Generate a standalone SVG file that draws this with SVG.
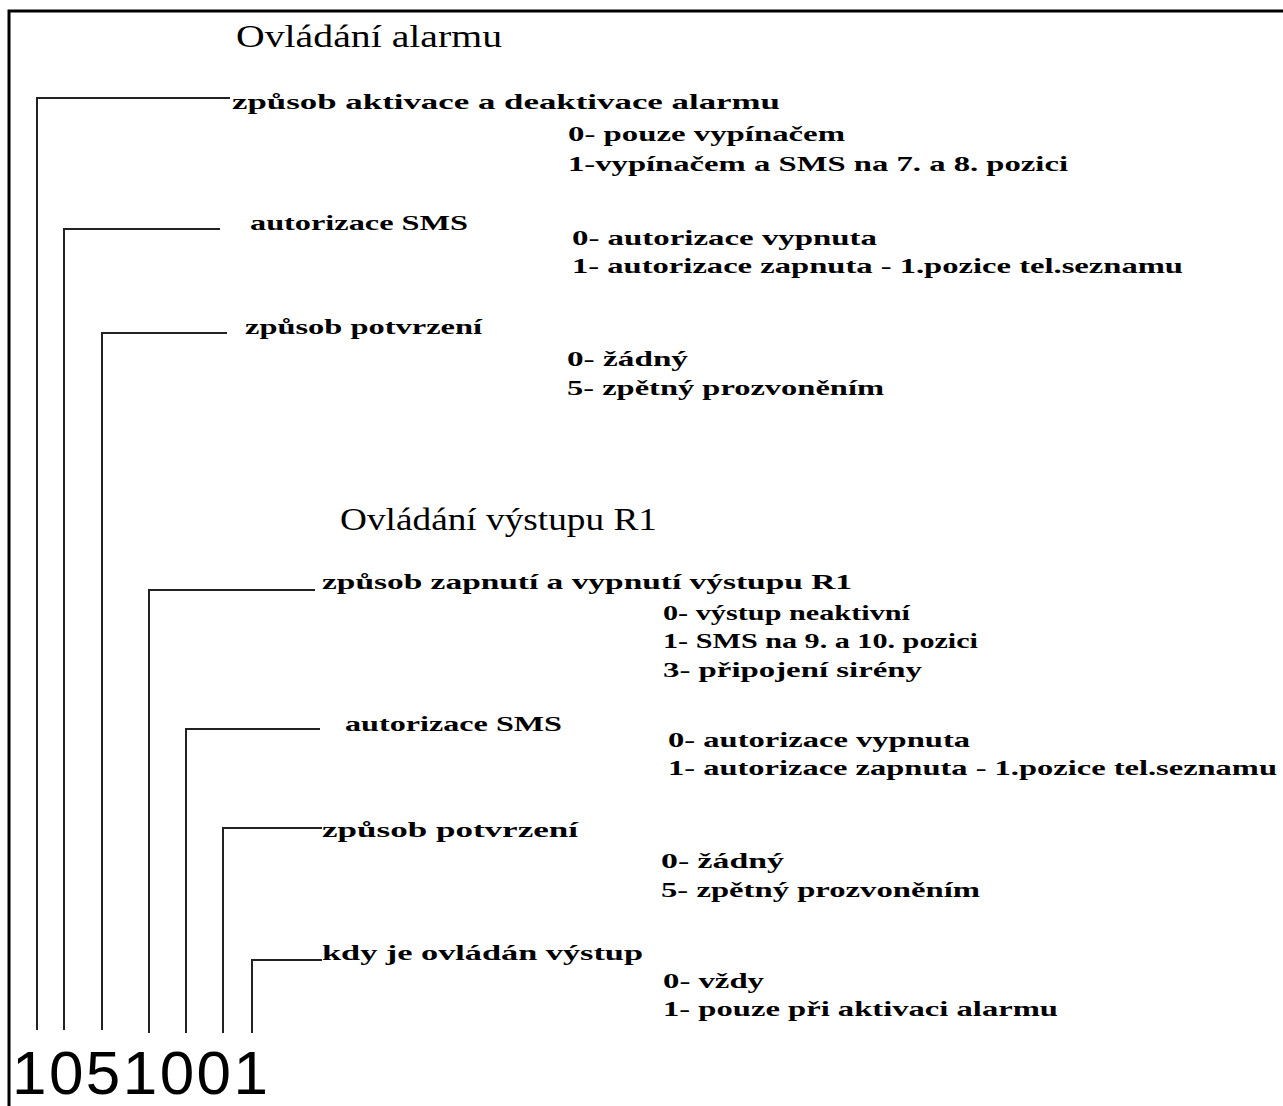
<svg xmlns="http://www.w3.org/2000/svg" width="1283" height="1106" viewBox="0 0 1283 1106">
<style>
.t{font-family:"Liberation Serif","Times New Roman",serif;font-size:32px;fill:#000}
.b{font-family:"Liberation Serif","Times New Roman",serif;font-size:22px;font-weight:bold;fill:#000}
.c{fill:none;stroke:#222;stroke-width:2}
.num{font-family:"Liberation Sans",Arial,sans-serif;font-size:62px;fill:#000}
</style>
<rect width="1283" height="1106" fill="#fff"/>
<path d="M9,1106 V11 H1283" fill="none" stroke="#000" stroke-width="3"/>
<g id="connectors">
<path class="c" d="M37,1030 V98 H230"/>
<path class="c" d="M64,1030 V229 H220"/>
<path class="c" d="M102,1030 V333 H227"/>
<path class="c" d="M149,1033 V590 H315"/>
<path class="c" d="M186,1033 V729 H320"/>
<path class="c" d="M223,1033 V828 H322"/>
<path class="c" d="M252,1033 V960 H322"/>
</g>
<g id="title1"><text class="t" x="236" y="47" textLength="266" lengthAdjust="spacingAndGlyphs">Ovládání alarmu</text></g>
<g id="node1">
<text class="b" x="232" y="109" textLength="548" lengthAdjust="spacingAndGlyphs">způsob aktivace a deaktivace alarmu</text>
<text class="b" x="568" y="141" textLength="277" lengthAdjust="spacingAndGlyphs">0- pouze vypínačem</text>
<text class="b" x="568" y="171" textLength="500" lengthAdjust="spacingAndGlyphs">1-vypínačem a SMS na 7. a 8. pozici</text>
</g>
<g id="node2">
<text class="b" x="250" y="230" textLength="218" lengthAdjust="spacingAndGlyphs">autorizace SMS</text>
<text class="b" x="572" y="245" textLength="305" lengthAdjust="spacingAndGlyphs">0- autorizace vypnuta</text>
<text class="b" x="572" y="273" textLength="611" lengthAdjust="spacingAndGlyphs">1- autorizace zapnuta - 1.pozice tel.seznamu</text>
</g>
<g id="node3">
<text class="b" x="245" y="334" textLength="237" lengthAdjust="spacingAndGlyphs">způsob potvrzení</text>
<text class="b" x="567" y="366" textLength="121" lengthAdjust="spacingAndGlyphs">0- žádný</text>
<text class="b" x="567" y="395" textLength="317" lengthAdjust="spacingAndGlyphs">5- zpětný prozvoněním</text>
</g>
<g id="title2"><text class="t" x="340" y="530" textLength="317" lengthAdjust="spacingAndGlyphs">Ovládání výstupu R1</text></g>
<g id="node4">
<text class="b" x="322" y="589" textLength="530" lengthAdjust="spacingAndGlyphs">způsob zapnutí a vypnutí výstupu R1</text>
<text class="b" x="663" y="620" textLength="247" lengthAdjust="spacingAndGlyphs">0- výstup neaktivní</text>
<text class="b" x="663" y="648" textLength="315" lengthAdjust="spacingAndGlyphs">1- SMS na 9. a 10. pozici</text>
<text class="b" x="663" y="677" textLength="259" lengthAdjust="spacingAndGlyphs">3- připojení sirény</text>
</g>
<g id="node5">
<text class="b" x="345" y="731" textLength="217" lengthAdjust="spacingAndGlyphs">autorizace SMS</text>
<text class="b" x="668" y="747" textLength="302" lengthAdjust="spacingAndGlyphs">0- autorizace vypnuta</text>
<text class="b" x="668" y="775" textLength="609" lengthAdjust="spacingAndGlyphs">1- autorizace zapnuta - 1.pozice tel.seznamu</text>
</g>
<g id="node6">
<text class="b" x="322" y="837" textLength="256" lengthAdjust="spacingAndGlyphs">způsob potvrzení</text>
<text class="b" x="661" y="868" textLength="123" lengthAdjust="spacingAndGlyphs">0- žádný</text>
<text class="b" x="661" y="897" textLength="319" lengthAdjust="spacingAndGlyphs">5- zpětný prozvoněním</text>
</g>
<g id="node7">
<text class="b" x="322" y="960" textLength="321" lengthAdjust="spacingAndGlyphs">kdy je ovládán výstup</text>
<text class="b" x="663" y="988" textLength="101" lengthAdjust="spacingAndGlyphs">0- vždy</text>
<text class="b" x="663" y="1016" textLength="395" lengthAdjust="spacingAndGlyphs">1- pouze při aktivaci alarmu</text>
</g>
<g id="code"><text class="num" x="12" y="1094" textLength="256" lengthAdjust="spacing">1051001</text></g>
</svg>
